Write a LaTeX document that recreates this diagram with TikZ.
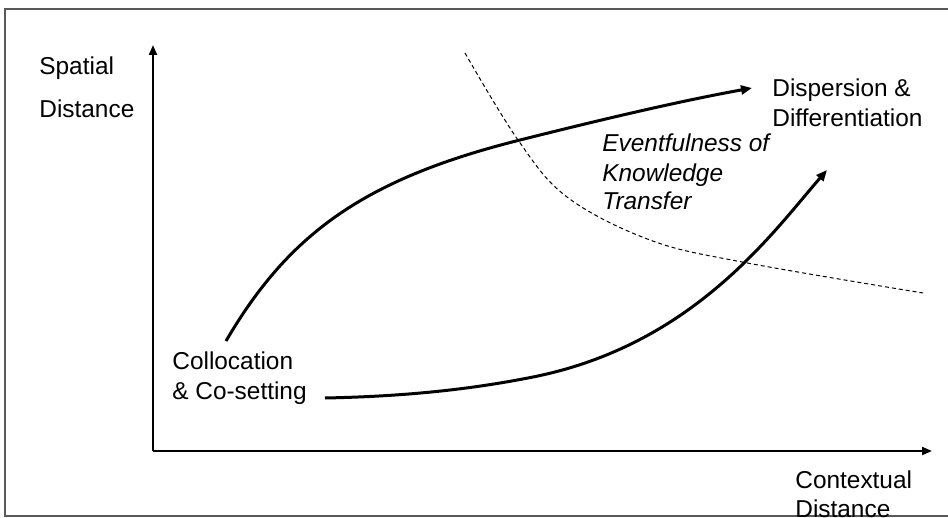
\documentclass[tikz,border=0pt]{standalone}
\usepackage{fontspec}
\setmainfont{Liberation Sans}
\usetikzlibrary{arrows.meta}
\begin{document}
\begin{tikzpicture}[x=0.5pt,y=-0.5pt,
  lbl/.style={anchor=base west,inner sep=0pt,font=\fontsize{12.2}{14}\selectfont},
  ilbl/.style={lbl,font=\fontsize{12.2}{14}\selectfont\itshape},
  axis/.style={line width=1pt,-{Triangle[length=5pt,width=4pt]}},
  trend/.style={line width=1.5pt,-{Triangle[length=5.5pt,width=4.5pt]}},
  frontier/.style={line width=0.5pt,dash pattern=on 2pt off 1.5pt},
  frame/.style={line width=1pt,draw=black!65}]
\useasboundingbox (0,0) rectangle (948,518);
\fill[white] (0,0) rectangle (948,518);
% frame
\draw[frame] (960,9) -- (4.5,9) -- (4.5,516) -- (960,516);
% axes
\coordinate (O) at (153,451);
\coordinate (ytip) at (153,45);
\coordinate (xtip) at (932,451);
\draw[axis] (O) -- (ytip);
\draw[axis] (O) -- (xtip);
% labels
\node[lbl] (sp1) at (39,75) {Spatial};
\node[lbl] (sp2) at (39,118) {Distance};
\node[lbl] (dd1) at (772,97) {Dispersion \&};
\node[lbl] (dd2) at (772,127) {Differentiation};
\node[ilbl] (ev1) at (602,152) {Eventfulness of};
\node[ilbl] (ev2) at (602,182) {Knowledge};
\node[ilbl] (ev3) at (602,210) {Transfer};
\node[lbl] (co1) at (172,370) {Collocation};
\node[lbl] (co2) at (172,400) {\& Co-setting};
\node[lbl] (cx1) at (795,488) {Contextual};
\node[lbl] (cx2) at (795,517) {Distance};
% curves
\coordinate (a0) at (226,341);
\coordinate (a1) at (520,140);
\coordinate (a2) at (752,88);
\draw[trend] (a0) .. controls (289.1,233.1) and (364.8,178.9) .. (a1)
  .. controls (597,120.7) and (675,102) .. (a2);
\coordinate (b0) at (325,398);
\coordinate (b1) at (533,377);
\coordinate (b3) at (827,170);
\draw[trend] (b0) .. controls (395,396.6) and (463,391) .. (b1)
  .. controls (693,345) and (772,233.25) .. (b3);
% dashed frontier
\draw[frontier] plot[smooth,tension=0.6] coordinates {(465,53) (518,140) (567,197) (650,240) (742,262) (923,293)};
\end{tikzpicture}
\end{document}
